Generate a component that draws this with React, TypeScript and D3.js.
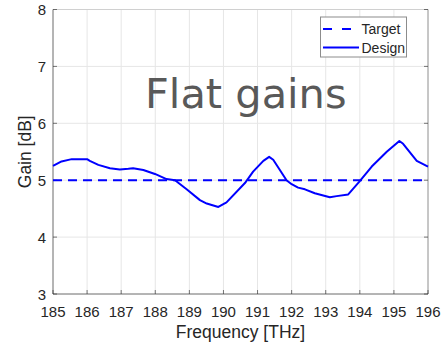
import React from 'react';
import * as d3 from 'd3';

// design curve
const freqs = [
  185.0, 185.25, 185.55, 186.0, 186.08, 186.33, 186.67, 186.96, 187.21, 187.35,
  187.65, 187.99, 188.33, 188.58, 188.92, 189.31, 189.51, 189.85, 190.09, 190.63,
  190.87, 191.17, 191.34, 191.46, 191.85, 192.0, 192.19, 192.39, 192.68, 193.12,
  193.32, 193.66, 193.98, 194.35, 194.79, 195.16, 195.27, 195.67, 196.0,
];
const designGain = [
  5.25, 5.33, 5.37, 5.37, 5.34, 5.27, 5.21, 5.19, 5.2, 5.21,
  5.18, 5.11, 5.02, 5.0, 4.84, 4.65, 4.59, 4.53, 4.61, 4.95,
  5.15, 5.34, 5.41, 5.36, 5.0, 4.93, 4.87, 4.84, 4.77, 4.7,
  4.72, 4.75, 4.97, 5.24, 5.5, 5.69, 5.64, 5.34, 5.24,
];
const targetGain = 5;
const xTicks = [185, 186, 187, 188, 189, 190, 191, 192, 193, 194, 195, 196];
const yTicks = [3, 4, 5, 6, 7, 8];

const W = 443;
const H = 348;
const margin = { top: 9.5, right: 15, bottom: 54, left: 53 };

export default function App() {
  const x = d3.scaleLinear().domain([185, 196]).range([margin.left, W - margin.right]);
  const y = d3.scaleLinear().domain([3, 8]).range([H - margin.bottom, margin.top]);

  const pts: [number, number][] = freqs.map((f, i) => [f, designGain[i]]);
  const line = d3
    .line<[number, number]>()
    .x((d) => x(d[0]))
    .y((d) => y(d[1]))
    .curve(d3.curveLinear);

  const x0 = x(185);
  const x1 = x(196);
  const y0 = y(3);
  const y1 = y(8);
  const axisColor = '#262626';
  const font = 'Liberation Sans, Arial, sans-serif';

  return (
    <svg
      width={W}
      height={H}
      style={{ position: 'fixed', left: 0, top: 0, background: '#fff' }}
    >
      {/* grid */}
      <g stroke='#e6e6e6' strokeWidth={1}>
        {xTicks.map((t) => (
          <line key={'gx' + t} x1={x(t)} x2={x(t)} y1={y0} y2={y1} />
        ))}
        {yTicks.map((t) => (
          <line key={'gy' + t} x1={x0} x2={x1} y1={y(t)} y2={y(t)} />
        ))}
      </g>

      {/* box */}
      <line x1={x0} x2={x1} y1={y1} y2={y1} stroke='#d0d0d0' />
      <line x1={x1} x2={x1} y1={y0} y2={y1} stroke='#9a9a9a' />
      <line x1={x0} x2={x0} y1={y0} y2={y1} stroke={axisColor} strokeOpacity={0.6} />
      <line x1={x0} x2={x1} y1={y0} y2={y0} stroke={axisColor} strokeOpacity={0.6} />

      {/* ticks */}
      <g stroke={axisColor} strokeOpacity={0.6}>
        {xTicks.map((t) => (
          <line key={'tx' + t} x1={x(t)} x2={x(t)} y1={y0} y2={y0 - 4} />
        ))}
        {yTicks.map((t) => (
          <React.Fragment key={'ty' + t}>
            <line x1={x0} x2={x0 + 4} y1={y(t)} y2={y(t)} />
            <line x1={x1} x2={x1 - 4} y1={y(t)} y2={y(t)} />
          </React.Fragment>
        ))}
      </g>

      {/* tick labels */}
      <g fill={axisColor} fontFamily={font} fontSize={15}>
        {xTicks.map((t) => (
          <text key={'lx' + t} x={x(t)} y={y0 + 22.5} textAnchor='middle'>
            {t}
          </text>
        ))}
        {yTicks.map((t) => (
          <text key={'ly' + t} x={x0 - 7} y={y(t) + 5.5} textAnchor='end'>
            {t}
          </text>
        ))}
      </g>

      {/* axis titles */}
      <text
        x={(x0 + x1) / 2}
        y={338}
        textAnchor='middle'
        fontFamily={font}
        fontSize={17.5}
        fill={axisColor}
      >
        Frequency [THz]
      </text>
      <text
        transform={`translate(31, ${(y0 + y1) / 2}) rotate(-90)`}
        textAnchor='middle'
        fontFamily={font}
        fontSize={17.5}
        fill={axisColor}
      >
        Gain [dB]
      </text>

      {/* annotation */}
      <text
        x={145}
        y={108}
        fontFamily='DejaVu Sans, Verdana, sans-serif'
        fontSize={41.5}
        fill='#595959'
      >
        Flat gains
      </text>

      {/* series */}
      <line
        x1={x0}
        x2={x1}
        y1={y(targetGain)}
        y2={y(targetGain)}
        stroke='#0000ff'
        strokeWidth={2}
        strokeDasharray='9,6'
      />
      <path d={line(pts) || ''} fill='none' stroke='#0000ff' strokeWidth={2} strokeLinejoin='round' />

      {/* legend */}
      <g>
        <rect x={320.5} y={17} width={86} height={40} fill='#fff' stroke='#8c8c8c' strokeWidth={1} />
        <line x1={323} x2={351} y1={29} y2={29} stroke='#0000ff' strokeWidth={2} strokeDasharray='9,10' />
        <line x1={323} x2={359} y1={47.5} y2={47.5} stroke='#0000ff' strokeWidth={2} />
        <text x={361.5} y={34} fontFamily={font} fontSize={14} fill={axisColor}>
          Target
        </text>
        <text x={361.5} y={52.5} fontFamily={font} fontSize={14} fill={axisColor}>
          Design
        </text>
      </g>
    </svg>
  );
}
